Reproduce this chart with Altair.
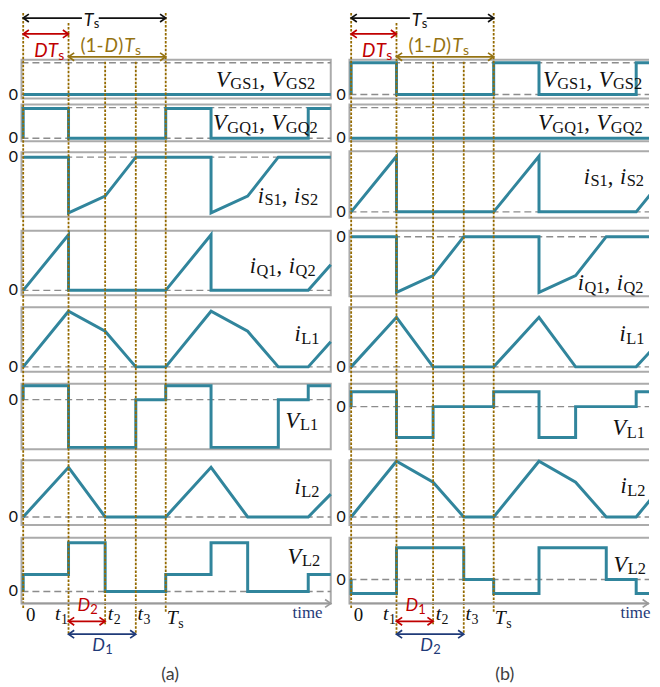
import altair as alt
import pandas as pd

# ======================= DATA =======================
# switching instants, as a fraction of the period Ts: 0, t1 (=D), t2, t3, Ts
EVENT_T = [0.0, 0.318, 0.575, 0.79, 1.0]

# ---- panel (a): breakpoint times (in Ts) and normalised levels ----
A_VGS_T = [0, 2.158]
A_VGS_V = [0, 0]
A_VGQ_T = [0, 0, 0.318, 0.318, 1, 1, 1.318, 1.318, 2, 2, 2.158]
A_VGQ_V = [0, 1, 1, 0, 0, 1, 1, 0, 0, 1, 1]
A_IS_T = [0, 0.318, 0.318, 0.575, 0.79, 1, 1.318, 1.318, 1.575, 1.79, 2.158]
A_IS_V = [0, 0, -1, -0.70, 0, 0, 0, -1, -0.70, 0, 0]
A_IQ_T = [0, 0.318, 0.318, 1, 1.318, 1.318, 2, 2.158]
A_IQ_V = [0, 1, 0, 0, 1, 0, 0, 0.46]
A_IL1_T = [0, 0.318, 0.575, 0.79, 1, 1.318, 1.575, 1.79, 2, 2.158]
A_IL1_V = [0, 1, 0.64, 0, 0, 1, 0.64, 0, 0, 0.45]
A_VL1_T = [0, 0, 0.318, 0.318, 0.79, 0.79, 1, 1, 1.318, 1.318, 1.79, 1.79, 2, 2, 2.158]
A_VL1_V = [0, 0.29, 0.29, -1, -1, 0, 0, 0.29, 0.29, -1, -1, 0, 0, 0.29, 0.29]
A_IL2_T = [0, 0.318, 0.575, 1, 1.318, 1.575, 2, 2.158]
A_IL2_V = [0, 1, 0, 0, 1, 0, 0, 0.46]
A_VL2_T = [0, 0, 0.318, 0.318, 0.575, 0.575, 1, 1, 1.318, 1.318, 1.575, 1.575, 2, 2, 2.158]
A_VL2_V = [0, 0.35, 0.35, 1, 1, 0, 0, 0.35, 0.35, 1, 1, 0, 0, 0.35, 0.35]

# ---- panel (b) ----
B_VGS_T = [0, 0, 0.318, 0.318, 1, 1, 1.318, 1.318, 2, 2, 2.15]
B_VGS_V = [0, 1, 1, 0, 0, 1, 1, 0, 0, 1, 1]
B_VGQ_T = [0, 2.15]
B_VGQ_V = [0, 0]
B_IS_T = [0, 0.318, 0.318, 1, 1.318, 1.318, 2, 2.15]
B_IS_V = [0, 1, 0, 0, 1, 0, 0, 0.47]
B_IQ_T = [0, 0.318, 0.318, 0.575, 0.79, 1, 1.318, 1.318, 1.575, 1.79, 2.15]
B_IQ_V = [0, 0, -1, -0.70, 0, 0, 0, -1, -0.70, 0, 0]
B_IL1_T = [0, 0.318, 0.575, 1, 1.318, 1.575, 2, 2.15]
B_IL1_V = [0, 0.89, 0, 0, 0.89, 0, 0, 0.42]
B_VL1_T = [0, 0, 0.318, 0.318, 0.575, 0.575, 1, 1, 1.318, 1.318, 1.575, 1.575, 2, 2, 2.15]
B_VL1_V = [0, 0.48, 0.48, -1, -1, 0, 0, 0.48, 0.48, -1, -1, 0, 0, 0.48, 0.48]
B_IL2_T = [0, 0.318, 0.575, 0.79, 1, 1.318, 1.575, 1.79, 2, 2.15]
B_IL2_V = [0, 1, 0.625, 0, 0, 1, 0.625, 0, 0, 0.47]
B_VL2_T = [0, 0, 0.318, 0.318, 0.79, 0.79, 1, 1, 1.318, 1.318, 1.79, 1.79, 2, 2, 2.15]
B_VL2_V = [0, -0.44, -0.44, 1, 1, 0, 0, -0.44, -0.44, 1, 1, 0, 0, -0.44, -0.44]

# row-label texts: (main letter, subscript 1, subscript 2)
ROW_LABEL_TEXT = {
    "gs": ("V", "GS1", "GS2"), "gq": ("V", "GQ1", "GQ2"),
    "is": ("i", "S1", "S2"), "iq": ("i", "Q1", "Q2"),
    "il1": ("i", "L1", None), "vl1": ("V", "L1", None),
    "il2": ("i", "L2", None), "vl2": ("V", "L2", None),
}

# ======================= LAYOUT / STYLE =======================
PX_PER_TS = 143.4
PANEL_H = 671
Y_DOMAIN = [8, 679]
PANELS = {"a": dict(width=330, xdom=[-0.0997, 2.2015], box_right=2.158),
          "b": dict(width=314, xdom=[-0.0997, 2.09], box_right=2.3)}
BOX_LEFT = -0.012

# row -> (zero_y, px per unit, box top, box bottom, dashed levels)
ROWS = {
    "a": {"gs": (90, 32, 55, 94, [0, 1]), "gq": (134, 30, 100, 137, [0, 1.03]),
          "is": (153, 56, 148, 213, [0]), "iq": (287, 56, 227, 292, [0]),
          "il1": (364, 56, 304, 369, [0]), "vl1": (397, 48, 381, 447, [0]),
          "il2": (515, 50, 458, 523, [0]), "vl2": (590, 49, 536, 602, [0])},
    "b": {"gs": (90, 32, 55, 94, [0, 1]), "gq": (134, 30, 100, 137, [0, 1.03]),
          "is": (208, 56, 147, 214, [0]), "iq": (233, 56, 227, 293, [0]),
          "il1": (364, 56, 304, 369, [0]), "vl1": (404, 31, 381, 447, [0]),
          "il2": (515, 56, 458, 523, [0]), "vl2": (578, 32, 536, 602, [0])},
}
WAVES = [
    ("a", "gs", A_VGS_T, A_VGS_V), ("a", "gq", A_VGQ_T, A_VGQ_V),
    ("a", "is", A_IS_T, A_IS_V), ("a", "iq", A_IQ_T, A_IQ_V),
    ("a", "il1", A_IL1_T, A_IL1_V), ("a", "vl1", A_VL1_T, A_VL1_V),
    ("a", "il2", A_IL2_T, A_IL2_V), ("a", "vl2", A_VL2_T, A_VL2_V),
    ("b", "gs", B_VGS_T, B_VGS_V), ("b", "gq", B_VGQ_T, B_VGQ_V),
    ("b", "is", B_IS_T, B_IS_V), ("b", "iq", B_IQ_T, B_IQ_V),
    ("b", "il1", B_IL1_T, B_IL1_V), ("b", "vl1", B_VL1_T, B_VL1_V),
    ("b", "il2", B_IL2_T, B_IL2_V), ("b", "vl2", B_VL2_T, B_VL2_V),
]
# label start (px from t=0) and baseline y
ROW_LABEL_POS = {
    "a": {"gs": (194, 82), "gq": (191, 126), "is": (236, 199), "iq": (228, 270),
          "il1": (273, 338), "vl1": (264, 425), "il2": (273, 492), "vl2": (266, 562)},
    "b": {"gs": (193, 82), "gq": (188, 126), "is": (234, 180), "iq": (228, 287),
          "il1": (270, 338), "vl1": (263, 433), "il2": (271, 491), "vl2": (264, 570)},
}
# vertical dotted guide lines: (top y, bottom y) for each event
GUIDE_Y = [(8, 608), (18, 633), (57, 623), (57, 633), (8, 612)]

TEAL = "#31859C"
BOX_GRAY = "#ABABAB"
DASH_GRAY = "#8C8C8C"
GOLD = "#946A00"
RED = "#C00000"
OLIVE = "#957312"
NAVY = "#1F3A78"
BLACK = "#111111"
AXIS_GRAY = "#9A9A9A"

FONTS = {"serif_it": ("Liberation Serif", "italic"), "serif_rm": ("Liberation Serif", "normal"),
         "sans_it": ("Lato", "italic"), "sans_rm": ("Lato", "normal")}
WID = {
    "serif_it": {"V": .64, "i": .30, "t": .30, "T": .58},
    "serif_rm": {"G": .722, "S": .556, "Q": .722, "L": .611, ",": .25, " ": .3, "s": .389,
                 "t": .278, "i": .278, "m": .778, "e": .444},
    "sans_it": {"D": .72, "T": .56},
    "sans_rm": {"(": .33, ")": .33, "-": .36, "s": .40, "a": .51, "b": .57},
}
MAIN_SIZE, SUB_SIZE = 22.5, 16.5


def text_run(x_rel, base, pieces, color):
    out = []
    x = x_rel
    for txt, fk, size, dy in pieces:
        out.append(dict(font=fk, text=txt, t=x / PX_PER_TS, y=base + dy, size=size, color=color))
        x += sum(WID[fk].get(c, 0.5 if fk.startswith("serif") else 0.58) for c in txt) * size
    return out


def panel_chart(p):
    cfg = PANELS[p]
    xs = alt.Scale(domain=cfg["xdom"], nice=False, zero=False)
    ys = alt.Scale(domain=Y_DOMAIN, reverse=True, nice=False, zero=False)

    def X(f):
        return alt.X(f, type="quantitative", scale=xs, axis=None)

    def Y(f):
        return alt.Y(f, type="quantitative", scale=ys, axis=None)

    rows = ROWS[p]
    # boxes and dashed reference levels
    boxes, dashes, zeros = [], [], []
    for key, (z, g, top, bot, lv) in rows.items():
        boxes.append(dict(t0=BOX_LEFT, t1=cfg["box_right"], top=top, bot=bot))
        for v in lv:
            dashes.append(dict(t0=BOX_LEFT, t1=cfg["box_right"], y=z - g * v))
        zeros.append(dict(t=-10 / PX_PER_TS, y=z, text="0"))
    # waveforms
    wrec = []
    for pp, key, ts, vs in WAVES:
        if pp != p:
            continue
        z, g = rows[key][0], rows[key][1]
        for i, (t, v) in enumerate(zip(ts, vs)):
            wrec.append(dict(key=key, seq=i, t=t, y=z - g * v))
    # guides
    guides = [dict(t=t, y0=a, y1=b) for t, (a, b) in zip(EVENT_T, GUIDE_Y)]
    t1, t2, t3, Ts = EVENT_T[1], EVENT_T[2], EVENT_T[3], EVENT_T[4]
    end = min(cfg["box_right"], cfg["xdom"][1] - 0.005)
    # arrows: segments and heads
    segs = [dict(t0=0, t1=0.412, y=13, c=BLACK), dict(t0=0.53, t1=Ts, y=13, c=BLACK),
            dict(t0=0, t1=t1, y=29, c=RED), dict(t0=t1, t1=Ts, y=52, c=OLIVE),
            dict(t0=t1, t1=t2, y=620, c=RED), dict(t0=t1, t1=t3, y=633, c=NAVY),
            dict(t0=BOX_LEFT, t1=end, y=602, c=AXIS_GRAY)]
    lheads = [dict(t=0, y=13, c=BLACK), dict(t=0, y=29, c=RED), dict(t=t1, y=52, c=OLIVE),
              dict(t=t1, y=620, c=RED), dict(t=t1, y=633, c=NAVY)]
    rheads = [dict(t=Ts, y=13, c=BLACK), dict(t=t1, y=29, c=RED), dict(t=Ts, y=52, c=OLIVE),
              dict(t=t2, y=620, c=RED), dict(t=t3, y=633, c=NAVY), dict(t=end, y=602, c=AXIS_GRAY)]

    # texts
    txt = []
    for key, (x0, base) in ROW_LABEL_POS[p].items():
        m, s1, s2 = ROW_LABEL_TEXT[key]
        pieces = [(m, "serif_it", MAIN_SIZE, 0), (s1, "serif_rm", SUB_SIZE, 2.5)]
        if s2:
            pieces += [(", ", "serif_rm", MAIN_SIZE, 0), (m, "serif_it", MAIN_SIZE, 0),
                       (s2, "serif_rm", SUB_SIZE, 2.5)]
        txt += text_run(x0, base, pieces, BLACK)
    txt += text_run(61, 21, [("T", "sans_it", 18, 0), ("s", "sans_rm", 13, 2.5)], BLACK)
    txt += text_run(11, 52, [("D", "sans_it", 19, 0), ("T", "sans_it", 19, 0), ("s", "sans_rm", 14, 3)], RED)
    txt += text_run(57.7, 47.5, [("(1-", "sans_rm", 19, 0), ("D", "sans_it", 19, 0), (")", "sans_rm", 19, 0),
                                 ("T", "sans_it", 19, 0), ("s", "sans_rm", 14, 2.5)], OLIVE)
    txt += text_run(2.7, 620, [("0", "serif_rm", 19, 0)], BLACK)
    for x0, sub in [(32, "1"), (85, "2"), (115, "3")]:
        txt += text_run(x0, 619, [("t", "serif_it", 20, 0), (sub, "serif_rm", 14, 4)], BLACK)
    txt += text_run(144.4, 623, [("T", "serif_it", 20, 0), ("s", "serif_rm", 14, 4)], BLACK)
    txt += text_run(271, 617, [("time", "serif_rm", 17, 0)], NAVY)
    red_d, navy_d = ("2", "1") if p == "a" else ("1", "2")
    txt += text_run(54.6, 610, [("D", "sans_it", 18, 0), (red_d, "sans_rm", 13, 3)], RED)
    txt += text_run(69.6, 650, [("D", "sans_it", 18, 0), (navy_d, "sans_rm", 13, 3)], NAVY)
    txt += text_run(139 if p == "a" else 145, 679, [("(" + p + ")", "sans_rm", 18, 0)], "#404040")
    tdf = pd.DataFrame(txt)

    layers = [
        alt.Chart(pd.DataFrame(boxes)).mark_rect(fill="white", fillOpacity=0, stroke=BOX_GRAY,
                                                 strokeWidth=2, clip=True)
        .encode(x=X("t0"), x2="t1", y=Y("top"), y2="bot"),
        alt.Chart(pd.DataFrame(dashes)).mark_rule(color=DASH_GRAY, strokeDash=[7, 4],
                                                  strokeWidth=1.4, clip=True)
        .encode(x=X("t0"), x2="t1", y=Y("y")),
        alt.Chart(pd.DataFrame(wrec)).mark_line(color=TEAL, strokeWidth=3, clip=True)
        .encode(x=X("t"), y=Y("y"), detail="key:N", order="seq:Q"),
        alt.Chart(pd.DataFrame(guides)).mark_rule(color=GOLD, strokeDash=[2.5, 1.5], strokeWidth=1.8)
        .encode(x=X("t"), y=Y("y0"), y2="y1"),
        alt.Chart(pd.DataFrame(segs)).mark_rule(strokeWidth=1.7, clip=True)
        .encode(x=X("t0"), x2="t1", y=Y("y"), color=alt.Color("c:N", scale=None)),
        alt.Chart(pd.DataFrame(lheads)).mark_point(shape="M 1 -0.7 L 0 0 L 1 0.7", filled=False,
                                                   size=130, strokeWidth=1.7, opacity=1)
        .encode(x=X("t"), y=Y("y"), color=alt.Color("c:N", scale=None)),
        alt.Chart(pd.DataFrame(rheads)).mark_point(shape="M -1 -0.7 L 0 0 L -1 0.7", filled=False,
                                                   size=130, strokeWidth=1.7, opacity=1)
        .encode(x=X("t"), y=Y("y"), color=alt.Color("c:N", scale=None)),
        alt.Chart(pd.DataFrame(zeros)).mark_text(font="Lato", fontSize=16, align="center",
                                                 baseline="middle", color=BLACK)
        .encode(x=X("t"), y=Y("y"), text="text:N"),
    ]
    for fk, (fam, style) in FONTS.items():
        sub = tdf[tdf.font == fk]
        if len(sub) == 0:
            continue
        layers.append(
            alt.Chart(sub).mark_text(font=fam, fontStyle=style, align="left", baseline="alphabetic")
            .encode(x=X("t"), y=Y("y"), text="text:N",
                    size=alt.Size("size:Q", scale=None), color=alt.Color("color:N", scale=None))
        )
    return alt.layer(*layers).properties(width=cfg["width"], height=PANEL_H)


chart = alt.hconcat(panel_chart("a"), panel_chart("b"), spacing=0, bounds="flush").properties(
    padding=0).configure_view(stroke=None)

chart.save("out.html", embed_options={"renderer": "svg", "actions": False})
